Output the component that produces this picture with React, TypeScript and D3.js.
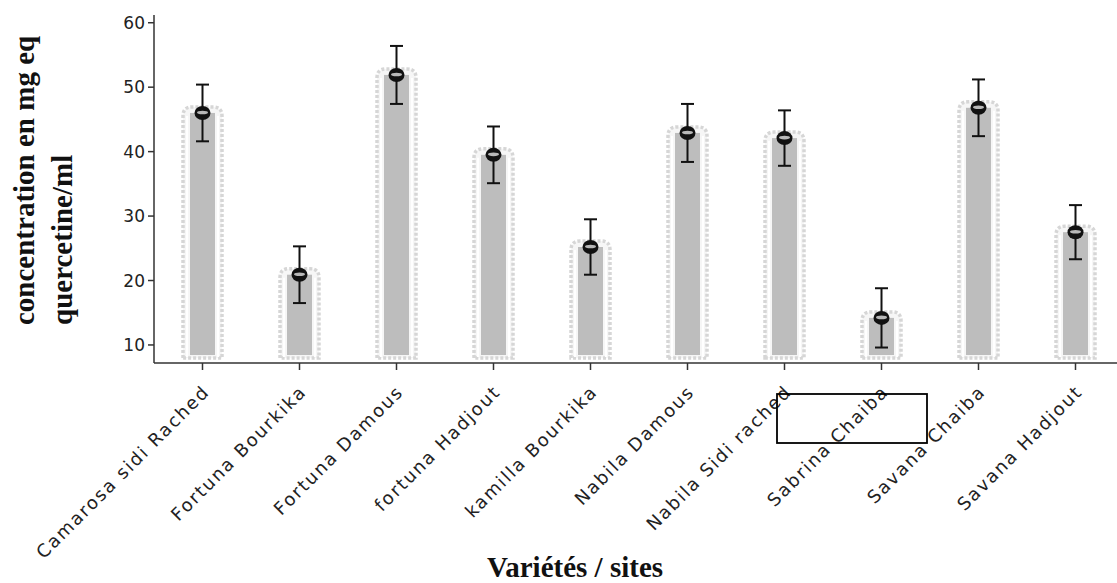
import React from "react";
import * as d3 from "d3";

const categories = [
  "Camarosa sidi Rached",
  "Fortuna Bourkika",
  "Fortuna Damous",
  "fortuna Hadjout",
  "kamilla Bourkika",
  "Nabila Damous",
  "Nabila Sidi rached",
  "Sabrina Chaiba",
  "Savana Chaiba",
  "Savana Hadjout",
];
const means = [46.0, 20.9, 51.9, 39.5, 25.2, 42.9, 42.1, 14.2, 46.8, 27.5];
const errors = [4.4, 4.4, 4.5, 4.4, 4.3, 4.5, 4.3, 4.6, 4.4, 4.2];
const yTicks = [10, 20, 30, 40, 50, 60];
const yTitleLines = ["concentration en mg eq", "quercetine/ml"];
const xTitle = "Variétés / sites";

const W = 1117;
const H = 583;

export default function App() {
  const x = d3.scaleBand<string>().domain(categories).range([154, 1124]).padding(0);
  const y = d3.scaleLinear().domain([7.2, 61.2]).range([363, 15]);
  const axisColor = "#333";
  const barBottom = y(7.2) - 8;

  return (
    <svg
      width={W}
      height={H}
      style={{ position: "absolute", left: 0, top: 0, background: "#fff" }}
      fontFamily="DejaVu Sans, Verdana, sans-serif"
    >
      <rect x={0} y={0} width={W} height={H} fill="#fff" />
      {/* bars */}
      {categories.map((c, i) => {
        const cx = (x(c) as number) + x.bandwidth() / 2;
        const top = y(means[i]);
        const hw = 19.5;
        const r = 9;
        const ht = top - 6;
        const hb = barBottom + 3;
        const halo = `M${cx - hw},${hb} L${cx - hw},${ht + r} Q${cx - hw},${ht} ${cx - hw + r},${ht} L${cx + hw - r},${ht} Q${cx + hw},${ht} ${cx + hw},${ht + r} L${cx + hw},${hb} Z`;
        return (
          <g key={c}>
            <path d={halo} fill="#f6f6f6" stroke="#d6d6d6" strokeWidth={3.5} strokeDasharray="3,2" />
            <path
              d={`M${cx - hw + 4},${hb - 1} L${cx - hw + 4},${ht + r} M${cx + hw - 4},${hb - 1} L${cx + hw - 4},${ht + r}`}
              stroke="#fff"
              strokeWidth={2}
            />
            <rect x={cx - 12.5} y={top} width={25} height={barBottom - top} fill="#bdbdbd" />
          </g>
        );
      })}
      {/* error bars and points */}
      {categories.map((c, i) => {
        const cx = (x(c) as number) + x.bandwidth() / 2;
        const yt = y(means[i] + errors[i]);
        const yb = y(means[i] - errors[i]);
        const ym = y(means[i]);
        return (
          <g key={c + "e"}>
            <line x1={cx} x2={cx} y1={yt} y2={yb} stroke="#111" strokeWidth={2} />
            <line x1={cx - 6.5} x2={cx + 6.5} y1={yt} y2={yt} stroke="#111" strokeWidth={2} />
            <line x1={cx - 6.5} x2={cx + 6.5} y1={yb} y2={yb} stroke="#111" strokeWidth={2} />
            <ellipse cx={cx} cy={ym} rx={8} ry={7} fill="#111" />
            <ellipse cx={cx} cy={ym - 0.5} rx={5.5} ry={1.8} fill="#b8b8b8" />
          </g>
        );
      })}
      {/* y axis */}
      <line x1={154} x2={154} y1={y(7.2)} y2={y(61.2)} stroke={axisColor} strokeWidth={1.5} />
      {yTicks.map((t) => (
        <g key={t} transform={`translate(154,${y(t)})`}>
          <line x1={-6} x2={0} stroke={axisColor} strokeWidth={1.5} />
          <text x={-9} dy="0.36em" textAnchor="end" fontSize={17} fill="#222">
            {t}
          </text>
        </g>
      ))}
      {/* x axis */}
      <line x1={154} x2={W} y1={y(7.2)} y2={y(7.2)} stroke={axisColor} strokeWidth={1.5} />
      {categories.map((c) => {
        const cx = (x(c) as number) + x.bandwidth() / 2;
        return (
          <g key={c + "t"}>
            <line x1={cx} x2={cx} y1={y(7.2)} y2={y(7.2) + 7} stroke={axisColor} strokeWidth={1.5} />
            <text
              transform={`translate(${cx + 8},${y(7.2) + 30}) rotate(-45)`}
              textAnchor="end"
              fontSize={18}
              letterSpacing={1.8}
              fill="#222"
            >
              {c}
            </text>
          </g>
        );
      })}
      {/* annotation box */}
      <rect x={777} y={394} width={150} height={49} fill="none" stroke="#000" strokeWidth={1.8} />
      {/* axis titles */}
      {yTitleLines.map((l, i) => (
        <text
          key={l}
          transform={`translate(${34 + i * 38},325) rotate(-90)`}
          textAnchor="start"
          fontFamily="Liberation Serif, Times New Roman, serif"
          fontWeight="bold"
          fontSize={29}
          fill="#111"
        >
          {l}
        </text>
      ))}
      <text
        x={575}
        y={577}
        textAnchor="middle"
        fontFamily="Liberation Serif, Times New Roman, serif"
        fontWeight="bold"
        fontSize={29}
        fill="#111"
      >
        {xTitle}
      </text>
    </svg>
  );
}
